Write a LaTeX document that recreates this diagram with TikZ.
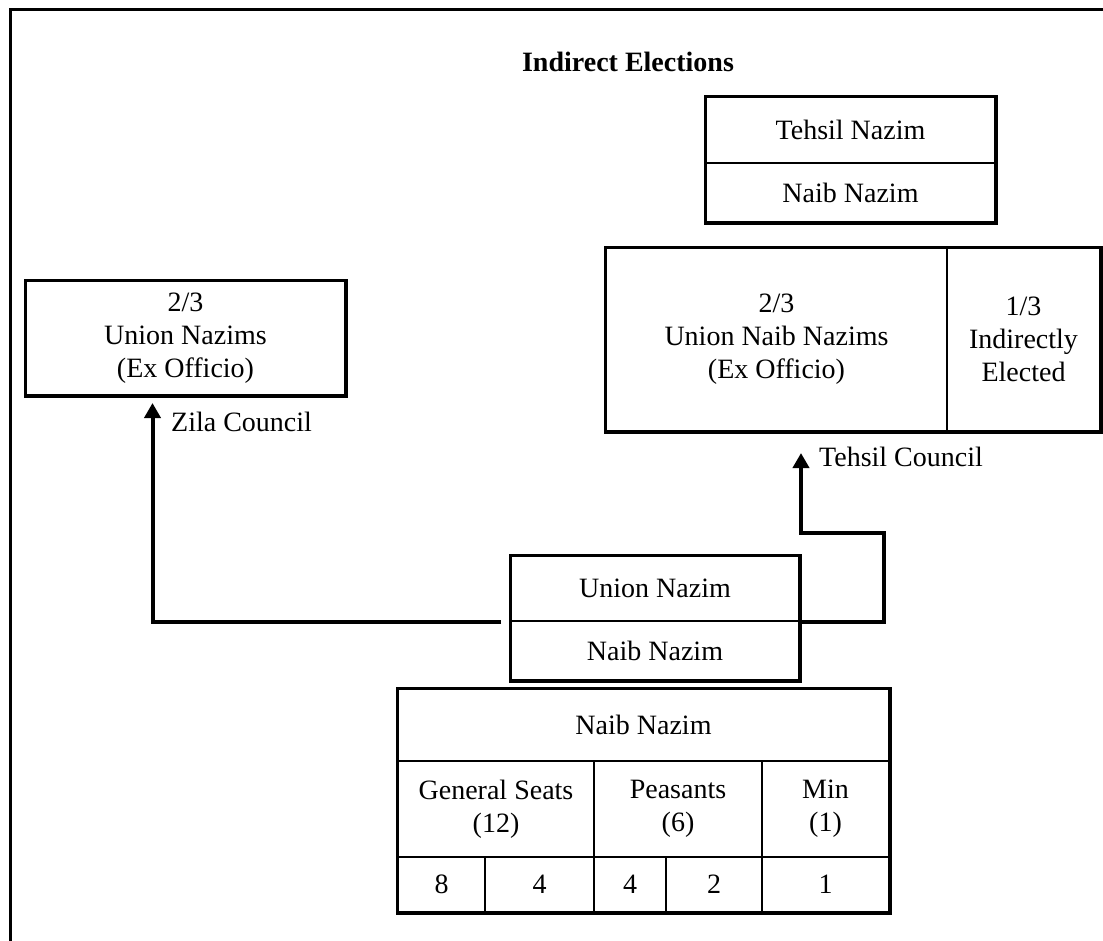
\documentclass[tikz,border=0pt]{standalone}
\usepackage{fontspec}
\setmainfont{Liberation Serif}
\usetikzlibrary{arrows.meta}
\tikzset{
  txt/.style={font=\fontsize{28}{33}\selectfont},
  cell/.style={txt, draw, line width=2pt, inner sep=0pt, align=center},
  outline/.style={line width=3pt},
  conn/.style={line width=4pt, line join=miter},
  arr/.style={-{Triangle[width=16pt,length=15pt]}},
  lbl/.style={txt, anchor=west, inner sep=0pt},
}
\begin{document}
\begin{tikzpicture}[x=1pt,y=-1pt]
\useasboundingbox (0,0) rectangle (1103,940);
\begin{scope}
  \clip (0,0) rectangle (1103,940);
  \draw[outline] (10,980) -- (10,9) -- (1140,9);
\end{scope}

\node[txt, font=\bfseries\fontsize{28}{33}\selectfont] (title) at (628,62) {Indirect Elections};

% Tehsil Nazim box
\node[cell, minimum width=289pt, minimum height=66pt] (tn) at (850.5,130) {Tehsil Nazim};
\node[cell, minimum width=289pt, minimum height=59pt] (tnn) at (850.5,192.5) {Naib Nazim};
\draw[outline] (tn.north west) rectangle (tnn.south east);

% Tehsil Council box
\node[cell, minimum width=341pt, minimum height=183pt] (bl) at (776.5,339.5) {2/3\\Union Naib Nazims\\(Ex Officio)};
\node[cell, minimum width=153pt, minimum height=183pt] (br) at (1023.5,339.5) {1/3\\Indirectly\\Elected};
\draw[outline] (bl.north west) rectangle (br.south east);

% Zila Council box
\node[cell, minimum width=319pt, minimum height=114pt] (lb) at (185.5,338) {2/3\\Union Nazims\\(Ex Officio)};
\draw[outline] (lb.north west) rectangle (lb.south east);

% Union box
\node[cell, minimum width=288pt, minimum height=65pt] (un1) at (655,588.5) {Union Nazim};
\node[cell, minimum width=288pt, minimum height=59pt] (un2) at (655,650.5) {Naib Nazim};
\draw[outline] (un1.north west) rectangle (un2.south east);

% Table
\node[cell, minimum width=491pt, minimum height=72pt] (t1) at (643.5,725) {Naib Nazim};
\node[cell, minimum width=196pt, minimum height=96pt] (t2a) at (496,809) {General Seats\\(12)};
\node[cell, minimum width=168pt, minimum height=96pt] (t2b) at (678,809) {Peasants\\(6)};
\node[cell, minimum width=127pt, minimum height=96pt] (t2c) at (825.5,809) {Min\\(1)};
\node[cell, minimum width=87pt, minimum height=55pt] (t3a) at (441.5,884.5) {8};
\node[cell, minimum width=109pt, minimum height=55pt] (t3b) at (539.5,884.5) {4};
\node[cell, minimum width=72pt, minimum height=55pt] (t3c) at (630,884.5) {4};
\node[cell, minimum width=96pt, minimum height=55pt] (t3d) at (714,884.5) {2};
\node[cell, minimum width=127pt, minimum height=55pt] (t3e) at (825.5,884.5) {1};
\draw[outline] (t1.north west) rectangle (t3e.south east);

% Connectors
\coordinate (lstart) at ([xshift=-9pt]un1.south west);
\coordinate (ltip) at ([xshift=-33pt,yshift=-7pt]lb.south);
\draw[conn, arr] (lstart) -| (ltip);

\coordinate (rtip) at ([xshift=24.5pt,yshift=-21pt]bl.south);
\draw[conn, arr] (un1.south east) -- ++(84,0) -- ++(0,-89) -| (rtip);

\node[lbl] (zila) at (171,422) {Zila Council};
\node[lbl] (tehsil) at (819,457) {Tehsil Council};
\end{tikzpicture}
\end{document}
